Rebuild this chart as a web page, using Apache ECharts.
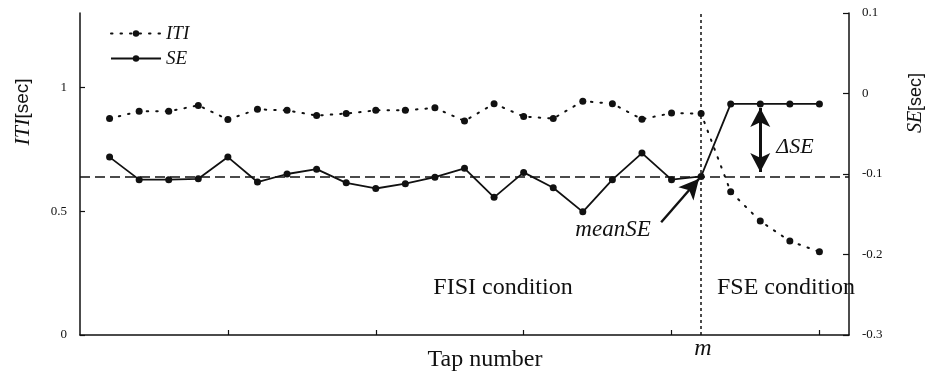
<!DOCTYPE html>
<html>
<head>
<meta charset="utf-8">
<script src="https://cdn.jsdelivr.net/npm/echarts@6/dist/echarts.min.js"></script>
<style>html,body{margin:0;padding:0;background:#fff}#c{width:926px;height:375px}</style>
</head>
<body>
<div id="c"></div>
<script>
// Tap numbers 1..25
const taps = [1,2,3,4,5,6,7,8,9,10,11,12,13,14,15,16,17,18,19,20,21,22,23,24,25];
// ITI [sec] (left axis)
const itiValues = [0.874,0.903,0.903,0.927,0.870,0.911,0.907,0.886,0.894,0.907,0.907,0.917,0.864,0.934,0.882,0.874,0.944,0.934,0.871,0.896,0.894,0.578,0.460,0.379,0.336];
// SE [sec] (right axis)
const seValues = [-0.079,-0.107,-0.107,-0.106,-0.079,-0.110,-0.100,-0.094,-0.111,-0.118,-0.112,-0.104,-0.093,-0.129,-0.098,-0.117,-0.147,-0.107,-0.074,-0.107,-0.103,-0.013,-0.013,-0.013,-0.013];
const meanSE = -0.104;
const mTap = 21;
const xTicks = [5,10,15,20,25];
const leftTicks = [0,0.5,1];
const rightTicks = [0.1,0,-0.1,-0.2,-0.3];

const serif = '"Liberation Serif","Times New Roman",serif';
const sans = '"Liberation Sans",Arial,sans-serif';
const ink = '#111';

const chart = echarts.init(document.getElementById('c'), null, {renderer:'canvas'});
const itiData = taps.map((t,i)=>[t,itiValues[i]]);
const seData = taps.map((t,i)=>[t,seValues[i]]);

chart.setOption({
  animation:false,
  backgroundColor:'#fff',
  grid:{left:80,right:77,top:13,bottom:40},
  legend:{
    orient:'vertical', left:105, top:19, itemWidth:50, itemHeight:8, itemGap:6,
    textStyle:{fontFamily:serif, fontStyle:'italic', fontSize:19, color:ink},
    data:['ITI','SE']
  },
  xAxis:{
    type:'value', min:0, max:26,
    axisLine:{lineStyle:{color:ink,width:1.5}},
    axisTick:{inside:true,length:5,lineStyle:{color:ink,width:1.2},customValues:xTicks},
    axisLabel:{show:false},
    splitLine:{show:false}
  },
  yAxis:[{
    type:'value', min:0, max:1.3, position:'left',
    axisLine:{show:true,lineStyle:{color:ink,width:1.5}},
    axisTick:{show:true,inside:true,length:5,lineStyle:{color:ink,width:1.2},customValues:leftTicks},
    axisLabel:{customValues:leftTicks,margin:13,fontFamily:serif,fontSize:13,color:ink},
    splitLine:{show:false}
  },{
    type:'value', min:-0.3, max:0.1, position:'right',
    axisLine:{show:true,lineStyle:{color:ink,width:1.5}},
    axisTick:{show:true,inside:true,length:6,lineStyle:{color:ink,width:1.2},customValues:rightTicks},
    axisLabel:{customValues:rightTicks,margin:13,fontFamily:serif,fontSize:13,color:ink,
      formatter:v=>String(Math.round(v*10)/10)},
    splitLine:{show:false}
  }],
  series:[{
    name:'ITI', type:'line', yAxisIndex:0, data:itiData,
    symbol:'circle', symbolSize:7, color:ink,
    itemStyle:{color:ink},
    lineStyle:{color:ink,width:2,type:[1.5,8],cap:'round'}
  },{
    name:'SE', type:'line', yAxisIndex:1, data:seData,
    symbol:'circle', symbolSize:7, color:ink,
    itemStyle:{color:ink},
    lineStyle:{color:ink,width:1.8,type:'solid'},
    markLine:{
      silent:true, animation:false, label:{show:false},
      data:[
        [{coord:[0,meanSE],symbol:'none'},{coord:[26,meanSE],symbol:'none',lineStyle:{color:ink,width:1.5,type:[10,5]}}],
        [{coord:[mTap,-0.3],symbol:'none'},{coord:[mTap,0.1],symbol:'none',lineStyle:{color:ink,width:1.5,type:[3,3]}}],
        [{coord:[23,-0.018],symbol:'arrow',symbolSize:[15,19]},{coord:[23,-0.0975],symbol:'arrow',symbolSize:[15,19],lineStyle:{color:ink,width:3,type:'solid'}}],
        [{coord:[19.65,-0.160],symbol:'none'},{coord:[20.93,-0.106],symbol:'arrow',symbolSize:[15,20],lineStyle:{color:ink,width:2.4,type:'solid'}}]
      ]
    }
  }],
  graphic:[
    {type:'text',x:23,y:112,rotation:Math.PI/2,style:{text:'{i|ITI}{s|[sec]}',align:'center',verticalAlign:'middle',
      rich:{i:{fontFamily:serif,fontStyle:'italic',fontSize:22,fill:ink},s:{fontFamily:sans,fontSize:19,fill:ink}}}},
    {type:'text',x:916,y:103,rotation:Math.PI/2,style:{text:'{i|SE}{s|[sec]}',align:'center',verticalAlign:'middle',
      rich:{i:{fontFamily:serif,fontStyle:'italic',fontSize:20,fill:ink},s:{fontFamily:sans,fontSize:18,fill:ink}}}},
    {type:'text',x:503,y:288,style:{text:'FISI condition',font:'24px '+serif,fill:ink,align:'center',verticalAlign:'middle'}},
    {type:'text',x:786,y:288,style:{text:'FSE condition',font:'24px '+serif,fill:ink,align:'center',verticalAlign:'middle'}},
    {type:'text',x:485,y:360,style:{text:'Tap number',font:'24px '+serif,fill:ink,align:'center',verticalAlign:'middle'}},
    {type:'text',x:703,y:349,style:{text:'m',font:'italic 24px '+serif,fill:ink,align:'center',verticalAlign:'middle'}},
    {type:'text',x:613,y:230,style:{text:'meanSE',font:'italic 23px '+serif,fill:ink,align:'center',verticalAlign:'middle'}},
    {type:'text',x:795,y:147,style:{text:'ΔSE',font:'italic 22px '+serif,fill:ink,align:'center',verticalAlign:'middle'}}
  ]
});
</script>
</body>
</html>
